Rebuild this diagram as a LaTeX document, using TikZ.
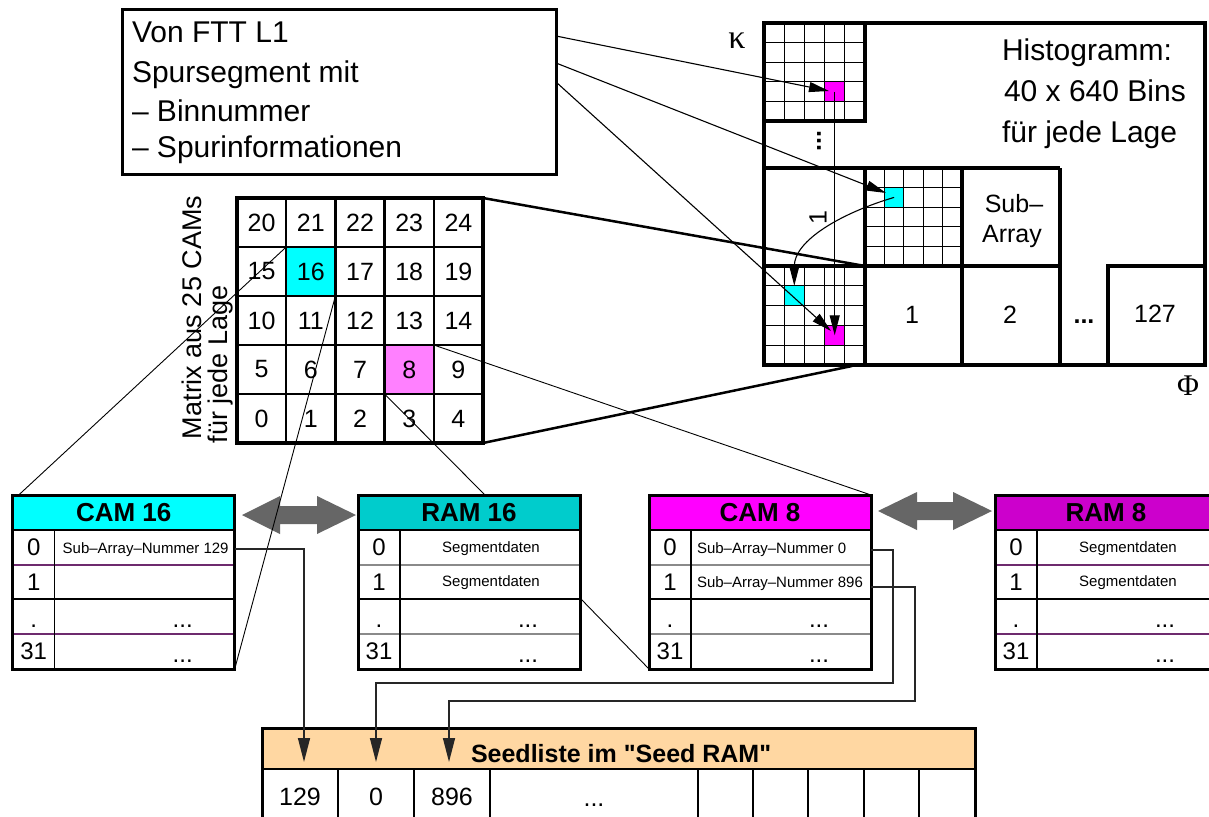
\documentclass[tikz,border=0pt]{standalone}
\usepackage{fontspec}
\setmainfont{Liberation Sans}[Ligatures=TeXOff]
\newfontfamily\greekserif{Liberation Serif}
\usetikzlibrary{arrows.meta}

\definecolor{camcyan}{HTML}{00FFFF}
\definecolor{ramcyan}{HTML}{00CCCC}
\definecolor{cammag}{HTML}{FF00FF}
\definecolor{rammag}{HTML}{CC00CC}
\definecolor{lightmag}{HTML}{FF80FF}
\definecolor{peach}{HTML}{FFD7A2}
\definecolor{rowpurple}{HTML}{6E2A6E}
\definecolor{rowgray}{HTML}{8A8A8A}
\definecolor{arrowgray}{HTML}{666666}

\newcommand\fs[1]{\fontsize{#1}{#1}\selectfont}

% 5x5 bin grid of one sub-array: left, top, width, height
\newcommand\hgrid[4]{%
  \foreach \k in {1,...,4}{%
    \draw[gridthin] ({#1+\k*#3/5},#2) -- ({#1+\k*#3/5},{#2+#4});
    \draw[gridthin] (#1,{#2+\k*#4/5}) -- ({#1+#3},{#2+\k*#4/5});
  }%
}

% memory table: name, left x, header colour, title, colour of separators 0/1 and 2/3
\newcommand\memtable[5]{%
  \fill[#3] (#2,495) rectangle ({#2+222},530);
  \draw[line width=1.5pt,#5] (#2,565) -- ({#2+222},565);
  \draw[line width=1.5pt] (#2,599) -- ({#2+222},599);
  \draw[line width=1.5pt,#5] (#2,634) -- ({#2+222},634);
  \draw[line width=1.5pt] ({#2+42},530) -- ({#2+42},669);
  \draw[line width=2.2pt] (#2,530) -- ({#2+222},530);
  \node[draw,line width=3pt,minimum width=222pt,minimum height=174pt,anchor=north west] (#1) at (#2,495) {};
  \node[font=\fs{26}\bfseries] (#1-title) at ({#2+111},513) {#4};
  \node[font=\fs{24}] (#1-i0) at ({#2+21},547.5) {0};
  \node[font=\fs{24}] (#1-i1) at ({#2+21},582) {1};
  \node[font=\fs{24},anchor=base] (#1-i2) at ({#2+21},627) {.};
  \node[font=\fs{24}] (#1-i3) at ({#2+21},651.5) {31};
  \node[font=\fs{24},anchor=base] (#1-d2) at ({#2+170},627) {...};
  \node[font=\fs{24},anchor=base] (#1-d3) at ({#2+170},662) {...};
}

\begin{document}
\begin{tikzpicture}[x=1pt,y=-1pt,
  every node/.style={inner sep=0pt,outer sep=0pt},
  heavy/.style={line width=4pt},
  gridthin/.style={line width=1.3pt},
  thinline/.style={line width=0.9pt},
  feed/.style={line width=1.1pt,-{Triangle[length=20pt,width=10pt]}},
  seedarrow/.style={line width=1.5pt,draw=black!85,-{Triangle[length=24pt,width=12pt]}},
  zoomline/.style={line width=2.5pt}]
\fill[white] (0,0) rectangle (1209,816);
\clip (0,0) rectangle (1209,816);

% ---------------- input box ----------------
\node[draw,line width=3pt,minimum width=434pt,minimum height=164pt,anchor=north west] (src) at (122,10) {};
\node[font=\fs{30},anchor=base west] (l1) at (132,43) {Von FTT L1};
\node[font=\fs{30},anchor=base west] (l2) at (132,82) {Spursegment mit};
\node[font=\fs{30},anchor=base west] (l3) at (132,121) {– Binnummer};
\node[font=\fs{30},anchor=base west] (l4) at (132,157) {– Spurinformationen};

% ---------------- histogram ----------------
% filled bins
\node[fill=cammag,minimum width=20.2pt,minimum height=19.6pt,anchor=north west] (hmtop) at (824.6,81.8) {};
\node[fill=camcyan,minimum width=19.4pt,minimum height=19.6pt,anchor=north west] (hcmid) at (884.4,187.6) {};
\node[fill=camcyan,minimum width=20.2pt,minimum height=19.8pt,anchor=north west] (hcbot) at (784.2,285.8) {};
\node[fill=cammag,minimum width=20.2pt,minimum height=19.8pt,anchor=north west] (hmbot) at (824.6,325.4) {};
% bin grids
\hgrid{764}{23}{101}{98}
\hgrid{865}{168}{97}{98}
\hgrid{764}{266}{101}{99}
% sub-array borders
\draw[heavy] (764,23) rectangle (865,121);
\draw[heavy] (764,168) -- (1060,168);
\draw[heavy] (764,266) -- (1060,266);
\draw[heavy] (865,168) -- (865,365);
\draw[heavy] (962,168) -- (962,365);
\draw[heavy] (1060,168) -- (1060,365);
\draw[heavy] (1108,365) -- (1108,266) -- (1205,266);
\draw[heavy] (764,23) rectangle (1205,365);
% labels
\node[font=\fs{30},anchor=base west] (ht1) at (1002,60) {Histogramm:};
\node[font=\fs{30},anchor=base west] (ht2) at (1004,101) {40 x 640 Bins};
\node[font=\fs{30},anchor=base west] (ht3) at (1002,142) {für jede Lage};
\node[font=\fs{25}\bfseries,rotate=90] (hvdots) at (819,141) {...};
\node[font=\fs{25},rotate=90] (hrow1) at (818,218) {1};
\node[font=\fs{25},anchor=base] (hsub1) at (1014,212) {Sub–};
\node[font=\fs{25},anchor=base] (hsub2) at (1012,242) {Array};
\node[font=\fs{25}] (hb1) at (912,315) {1};
\node[font=\fs{25}] (hb2) at (1010,315) {2};
\node[font=\fs{25}\bfseries,anchor=base] (hbdots) at (1084,323) {...};
\node[font=\fs{25}] (hb127) at (1155,314) {127};
\node[font=\fs{34}\greekserif] (kappa) at (737,41) {κ};
\node[font=\fs{30}\greekserif] (phi) at (1188,386) {Φ};

% ---------------- CAM matrix ----------------
\fill[camcyan] (286.2,247) rectangle (335.4,296);
\fill[lightmag] (384.6,345) rectangle (433.8,394);
\foreach \i in {0,...,4}{
  \foreach \j in {0,...,4}{
    \pgfmathtruncatemacro\n{(4-\j)*5+\i}
    \node[font=\fs{25},minimum width=49.2pt,minimum height=49pt,anchor=north west] (c\n) at ({237+49.2*\i},{198+49*\j}) {\n};
  }
}
\foreach \k in {1,...,4}{
  \draw[line width=2.5pt] ({237+49.2*\k},198) -- ({237+49.2*\k},443);
  \draw[line width=2.5pt] (237,{198+49*\k}) -- (483,{198+49*\k});
}
\node[draw,line width=4pt,minimum width=246pt,minimum height=245pt,anchor=north west] (mat) at (237,198) {};
\node[font=\fs{27},rotate=90,anchor=base west] (mlab1) at (201.5,439) {Matrix aus 25 CAMs};
\node[font=\fs{27},rotate=90,anchor=base west] (mlab2) at (227,443) {für jede Lage};

% ---------------- memory tables ----------------
\memtable{cam16}{12.7}{camcyan}{CAM 16}{rowpurple}
\memtable{ram16}{358}{ramcyan}{RAM 16}{rowgray}
\memtable{cam8}{649}{cammag}{CAM 8}{rowgray}
\memtable{ram8}{995}{rammag}{RAM 8}{rowpurple}
\node[font=\fs{15},anchor=base west] (cam16-r0) at (62.7,553) {Sub–Array–Nummer 129};
\node[font=\fs{15},anchor=base west] (cam8-r0) at (697,553) {Sub–Array–Nummer 0};
\node[font=\fs{15},anchor=base west] (cam8-r1) at (697,587.5) {Sub–Array–Nummer 896};
\node[font=\fs{15},anchor=base] (ram16-r0) at (491,552) {Segmentdaten};
\node[font=\fs{15},anchor=base] (ram16-r1) at (491,586.5) {Segmentdaten};
\node[font=\fs{15},anchor=base] (ram8-r0) at (1128,552) {Segmentdaten};
\node[font=\fs{15},anchor=base] (ram8-r1) at (1128,586.5) {Segmentdaten};

% CAM <-> RAM exchange arrows
\fill[arrowgray] (242,515) -- (280,496) -- (280,506) -- (317,506) -- (317,496) -- (356,515)
  -- (317,534) -- (317,524) -- (280,524) -- (280,534) -- cycle;
\fill[arrowgray] (878,511) -- (917,492) -- (917,502) -- (953,502) -- (953,492) -- (992,511)
  -- (953,530) -- (953,520) -- (917,520) -- (917,530) -- cycle;

% ---------------- seed list ----------------
\fill[peach] (262,728) rectangle (975,769);
\foreach \x in {338,414,490,698,753,808,864,919}{
  \draw[line width=1.3pt] (\x,769) -- (\x,830);
}
\draw[line width=2.5pt] (262,769) -- (975,769);
\node[draw,line width=3pt,minimum width=713pt,minimum height=102pt,anchor=north west] (seed) at (262,728) {};
\node[font=\fs{25}\bfseries,anchor=base west] (seedtitle) at (471,762) {Seedliste im "Seed RAM"};
\node[font=\fs{25}] (s129) at (300,797) {129};
\node[font=\fs{25}] (s0) at (376,797) {0};
\node[font=\fs{25}] (s896) at (452,797) {896};
\node[font=\fs{25},anchor=base] (sdots) at (594,806) {...};

% ---------------- connectors ----------------
\coordinate (o1) at (556,36);
\coordinate (o2) at (556,63);
\coordinate (o3) at (556,82);
\coordinate (t1) at (829,91);
\coordinate (t2) at (886,193);
\coordinate (t3) at (831,331);
\draw[feed] (o1) -- (t1);
\draw[feed] (o2) -- (t2);
\draw[feed] (o3) -- (t3);
\draw[feed] (hmtop.center) -- (hmtop.center |- hmbot.center);
\draw[feed] (hcmid.center) .. controls +(-54,16) and +(0,-45) .. (hcbot.north);

\coordinate (zsub) at (865,266);
\coordinate (zbot) at (852,366);
\draw[zoomline] (mat.north east) -- (zsub);
\draw[zoomline] (mat.south east) -- (zbot);

\coordinate (ram16r1) at (581,599);
\draw[thinline] (c16.north west) -- ([xshift=6pt]cam16.north west);
\draw[thinline] (c16.south east) -- (cam16.south east);
\draw[thinline] (c8.south west) -- ([xshift=16pt]ram16.north);
\draw[thinline] (c8.north east) -- (cam8.north east);
\draw[thinline] (ram16r1) -- (cam8.south west);

\coordinate (cam16o0) at (234.7,549);
\coordinate (cam8o0) at (871,550);
\coordinate (cam8o1) at (871,587);
\coordinate (j1) at (893,683);
\coordinate (j2) at (915,701);
\coordinate (in129) at (304,762);
\coordinate (in0) at (376,762);
\coordinate (in896) at (449,762);
\draw[seedarrow] (cam16o0) -| (in129);
\draw[seedarrow] (cam8o0) -| (j1) -| (in0);
\draw[seedarrow] (cam8o1) -| (j2) -| (in896);
\end{tikzpicture}
\end{document}
